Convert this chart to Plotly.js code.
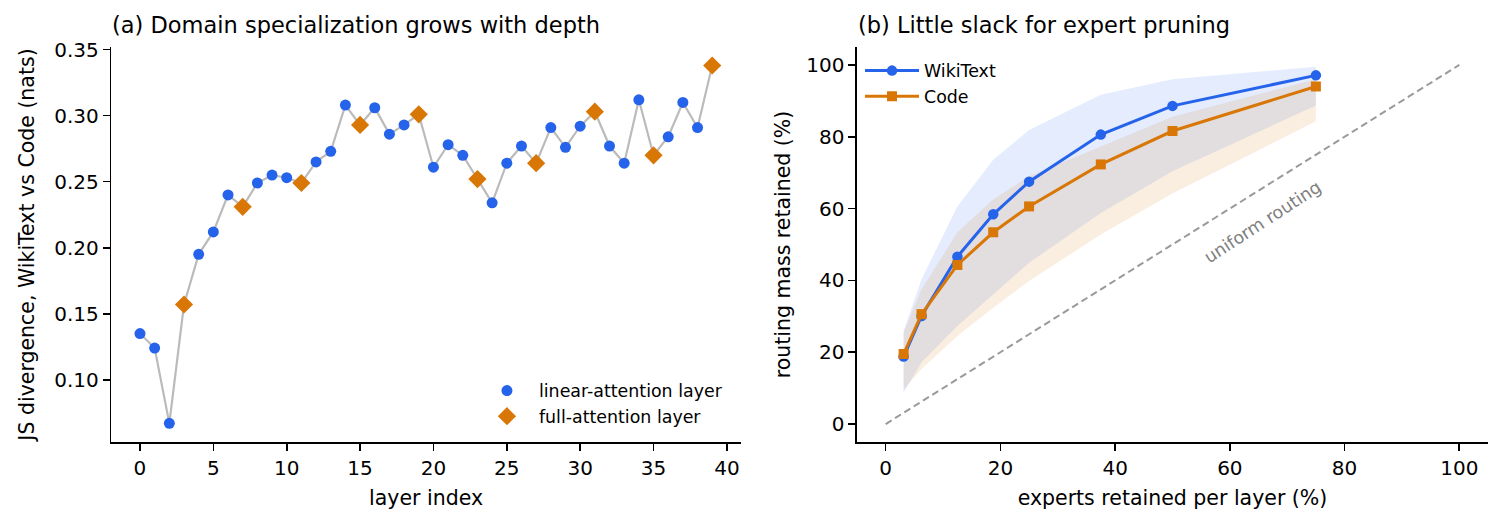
<!DOCTYPE html>
<html>
<head>
<meta charset="utf-8">
<script src="https://cdn.plot.ly/plotly-3.0.1.min.js"></script>
<style>
  html, body { margin: 0; padding: 0; background: white; }
  #chart { width: 1503px; height: 528px; }
</style>
</head>
<body>
<div id="chart"></div>
<script>
// (a) JS divergence per layer
const layers = [0, 1, 2, 3, 4, 5, 6, 7, 8, 9, 10, 11, 12, 13, 14, 15, 16, 17, 18, 19,
                20, 21, 22, 23, 24, 25, 26, 27, 28, 29, 30, 31, 32, 33, 34, 35, 36, 37, 38, 39];
const jsDiv = [0.135, 0.124, 0.067, 0.157, 0.195, 0.212, 0.240, 0.231, 0.249, 0.255,
               0.253, 0.249, 0.265, 0.273, 0.308, 0.293, 0.306, 0.286, 0.293, 0.301,
               0.261, 0.278, 0.270, 0.252, 0.234, 0.264, 0.277, 0.264, 0.291, 0.276,
               0.292, 0.303, 0.277, 0.264, 0.312, 0.270, 0.284, 0.310, 0.291, 0.338];
const fullAttnLayers = [3, 7, 11, 15, 19, 23, 27, 31, 35, 39];

// (b) routing mass retained vs experts retained
const retainedPct = [3.125, 6.25, 12.5, 18.75, 25, 37.5, 50, 75];
const wikiMass = [18.8, 30.1, 46.6, 58.4, 67.5, 80.6, 88.6, 97.1];
const wikiLo   = [8.8, 17.2, 27.3, 36.1, 44.9, 58.8, 70.4, 88.7];
const wikiHi   = [26.0, 40.3, 60.6, 73.6, 81.9, 91.7, 96.0, 99.5];
const codeMass = [19.5, 30.6, 44.3, 53.4, 60.6, 72.3, 81.6, 94.0];
const codeLo   = [9.5, 15.3, 24.5, 32.4, 39.8, 52.8, 64.2, 84.3];
const codeHi   = [25.5, 37.5, 53.4, 62.5, 69.0, 77.3, 85.6, 96.0];
const diag = [0, 100];

const BLUE = '#2563eb';
const ORANGE = '#d97706';
const FONT = 'DejaVu Sans';

const linIdx = layers.filter(l => fullAttnLayers.indexOf(l) === -1);
const fullIdx = layers.filter(l => fullAttnLayers.indexOf(l) !== -1);

const traces = [
    // panel a
    {
        x: layers, y: jsDiv, xaxis: 'x', yaxis: 'y',
        mode: 'lines', line: {color: '#bbbbbb', width: 2.2},
        showlegend: false, hoverinfo: 'skip'
    },
    {
        x: linIdx, y: linIdx.map(l => jsDiv[l]), xaxis: 'x', yaxis: 'y',
        mode: 'markers', name: 'linear-attention layer',
        marker: {color: BLUE, size: 11, symbol: 'circle'},
        legend: 'legend'
    },
    {
        x: fullIdx, y: fullIdx.map(l => jsDiv[l]), xaxis: 'x', yaxis: 'y',
        mode: 'markers', name: 'full-attention layer',
        marker: {color: ORANGE, size: 14, symbol: 'diamond'},
        legend: 'legend'
    },
    // panel b: bands
    {
        x: retainedPct, y: wikiLo, xaxis: 'x2', yaxis: 'y2',
        mode: 'lines', line: {width: 0, color: 'rgba(0,0,0,0)'},
        showlegend: false, hoverinfo: 'skip'
    },
    {
        x: retainedPct, y: wikiHi, xaxis: 'x2', yaxis: 'y2',
        mode: 'lines', line: {width: 0, color: 'rgba(0,0,0,0)'},
        fill: 'tonexty', fillcolor: 'rgba(37,99,235,0.12)',
        showlegend: false, hoverinfo: 'skip'
    },
    {
        x: retainedPct, y: codeLo, xaxis: 'x2', yaxis: 'y2',
        mode: 'lines', line: {width: 0, color: 'rgba(0,0,0,0)'},
        showlegend: false, hoverinfo: 'skip'
    },
    {
        x: retainedPct, y: codeHi, xaxis: 'x2', yaxis: 'y2',
        mode: 'lines', line: {width: 0, color: 'rgba(0,0,0,0)'},
        fill: 'tonexty', fillcolor: 'rgba(217,119,6,0.12)',
        showlegend: false, hoverinfo: 'skip'
    },
    {
        x: diag, y: diag, xaxis: 'x2', yaxis: 'y2',
        mode: 'lines', line: {color: '#9a9a9a', width: 2, dash: '7px,4px'},
        showlegend: false, hoverinfo: 'skip'
    },
    {
        x: retainedPct, y: wikiMass, xaxis: 'x2', yaxis: 'y2',
        mode: 'lines+markers', name: 'WikiText',
        line: {color: BLUE, width: 3}, marker: {color: BLUE, size: 10.5, symbol: 'circle'},
        legend: 'legend2'
    },
    {
        x: retainedPct, y: codeMass, xaxis: 'x2', yaxis: 'y2',
        mode: 'lines+markers', name: 'Code',
        line: {color: ORANGE, width: 3}, marker: {color: ORANGE, size: 10, symbol: 'square'},
        legend: 'legend2'
    }
];

const axisBase = {
    showline: true, linecolor: '#000', linewidth: 1.6,
    ticks: 'outside', ticklen: 7, tickwidth: 1.6, tickcolor: '#000',
    showgrid: false, zeroline: false, automargin: false,
    tickfont: {family: FONT, size: 20, color: '#000'}
};
const titleFont = {family: FONT, size: 20.5, color: '#000'};

const layout = {
    width: 1503, height: 528,
    margin: {l: 0, r: 0, t: 0, b: 0},
    paper_bgcolor: 'white', plot_bgcolor: 'white',
    font: {family: FONT, color: '#000'},
    xaxis: Object.assign({}, axisBase, {
        domain: [0.0741, 0.4929], range: [-1.95, 40.95], anchor: 'y',
        tickmode: 'linear', tick0: 0, dtick: 5,
        title: {text: 'layer index', font: titleFont, standoff: 12}
    }),
    yaxis: Object.assign({}, axisBase, {
        domain: [0.1629, 0.911], range: [0.0529, 0.352], anchor: 'x',
        tickmode: 'linear', tick0: 0.10, dtick: 0.05, tickformat: '.2f',
        title: {text: 'JS divergence, WikiText vs Code (nats)', font: titleFont, standoff: 14}
    }),
    xaxis2: Object.assign({}, axisBase, {
        domain: [0.5702, 0.990], range: [-5, 105], anchor: 'y2',
        tickmode: 'linear', tick0: 0, dtick: 20,
        title: {text: 'experts retained per layer (%)', font: titleFont, standoff: 12}
    }),
    yaxis2: Object.assign({}, axisBase, {
        domain: [0.1629, 0.911], range: [-5, 105], anchor: 'x2',
        tickmode: 'linear', tick0: 0, dtick: 20,
        title: {text: 'routing mass retained (%)', font: titleFont, standoff: 10}
    }),
    legend: {
        x: 0.3160, y: 0.294, xanchor: 'left', yanchor: 'top', traceorder: 'normal',
        bgcolor: 'rgba(0,0,0,0)', borderwidth: 0, itemwidth: 54,
        font: {family: FONT, size: 17.4, color: '#000'}
    },
    legend2: {
        x: 0.5722, y: 0.900, xanchor: 'left', yanchor: 'top', traceorder: 'normal',
        bgcolor: 'rgba(0,0,0,0)', borderwidth: 0, itemwidth: 54,
        font: {family: FONT, size: 17.4, color: '#000'}
    },
    annotations: [
        {
            text: '(a) Domain specialization grows with depth',
            xref: 'paper', yref: 'paper', x: 110 / 1503, y: 1 - 25 / 528,
            xanchor: 'left', yanchor: 'middle', showarrow: false,
            font: {family: FONT, size: 22.5, color: '#000'}
        },
        {
            text: '(b) Little slack for expert pruning',
            xref: 'paper', yref: 'paper', x: 856 / 1503, y: 1 - 25 / 528,
            xanchor: 'left', yanchor: 'middle', showarrow: false,
            font: {family: FONT, size: 22.5, color: '#000'}
        },
        {
            text: 'uniform routing',
            xref: 'x2', yref: 'y2', x: 65.7, y: 56.3,
            xanchor: 'center', yanchor: 'middle', showarrow: false, textangle: -33,
            font: {family: FONT, size: 17.4, color: '#808080'}
        }
    ]
};

Plotly.newPlot('chart', traces, layout, {staticPlot: true, displayModeBar: false});
</script>
</body>
</html>
